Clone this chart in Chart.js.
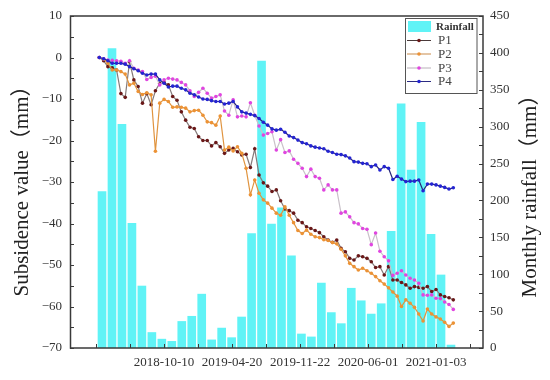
<!DOCTYPE html>
<html><head><meta charset="utf-8">
<script src="https://cdn.jsdelivr.net/npm/chart.js@4/dist/chart.umd.min.js"></script>
<style>html,body{margin:0;padding:0;background:#fff;}#wrap{width:550px;height:380px;}</style>
</head><body><div id="wrap"><canvas id="c" width="550" height="380"></canvas></div>
<script>
// ---------- data ----------
const months = ['2018-04','2018-05','2018-06','2018-07','2018-08','2018-09','2018-10','2018-11','2018-12',
  '2019-01','2019-02','2019-03','2019-04','2019-05','2019-06','2019-07','2019-08','2019-09','2019-10','2019-11','2019-12',
  '2020-01','2020-02','2020-03','2020-04','2020-05','2020-06','2020-07','2020-08','2020-09','2020-10','2020-11','2020-12',
  '2021-01','2021-02','2021-03'];
const rainfall = [212,406,303,169,84,21,12,9,36,43,73,11,27,14,42,155,389,168,190,125,19,15,88,48,33,81,64,46,60,158,331,241,306,154,99,4];

const P1 = [0,-0.8,-2.2,-2.5,-3.0,-8.7,-9.6,-1.0,-5.4,-7.0,-11.0,-8.7,-11.4,-8.0,-6.2,-6.0,-6.6,-9.4,-10.3,-13.1,
  -15.1,-16.8,-17.1,-19.1,-20.0,-20.0,-21.3,-20.5,-21.5,-23.1,-22.3,-21.9,-22.7,-23.5,-23.3,-26.5,-22.0,-28.3,-30.2,-31.0,
  -32.3,-31.9,-34.5,-36.5,-36.9,-37.5,-39.2,-39.8,-40.8,-41.2,-41.7,-42.2,-43.2,-44.0,-44.5,-44.0,-46.0,-46.8,-48.4,-48.8,
  -47.8,-48.0,-48.4,-49.2,-50.6,-50.4,-52.4,-50.4,-53.6,-53.6,-54.2,-54.8,-55.6,-55.2,-55.4,-55.6,-55.2,-56.4,-55.9,-57.2,
  -57.6,-57.9,-58.4];
const P2 = [0,-0.4,-1.4,-3.0,-3.0,-3.4,-4.0,-6.6,-6.2,-8.2,-8.9,-8.5,-9.0,-22.6,-11.0,-10.1,-10.6,-12.0,-11.9,-12.0,
  -12.2,-13.1,-12.8,-12.7,-13.9,-15.5,-15.7,-16.3,-14.1,-22.3,-21.6,-22.5,-21.5,-23.1,-26.7,-33.1,-29.5,-32.7,-34.3,-35.1,
  -36.3,-37.5,-38.0,-36.0,-38.0,-39.8,-41.7,-42.4,-41.6,-42.6,-43.2,-43.4,-43.9,-44.1,-44.6,-44.9,-46.2,-47.8,-49.6,-50.4,
  -51.2,-50.8,-51.4,-52.0,-52.8,-53.8,-54.6,-55.5,-56.5,-57.5,-60.0,-58.4,-59.2,-60.2,-61.8,-63.5,-60.6,-61.8,-62.5,-63.0,
  -63.8,-64.8,-64.0];
const P3 = [0,-0.3,-0.6,-0.7,-0.8,-0.9,-1.4,-0.8,-2.6,-3.0,-3.4,-5.3,-4.8,-4.5,-6.6,-5.4,-5.0,-5.2,-5.4,-6.0,
  -6.6,-8.0,-9.4,-8.4,-7.4,-8.6,-9.8,-9.4,-9.0,-12.9,-13.9,-10.2,-14.3,-14.1,-14.3,-10.9,-13.9,-16.5,-18.7,-18.3,
  -17.9,-22.3,-19.8,-22.9,-22.5,-24.5,-25.5,-26.7,-28.7,-26.9,-28.7,-29.1,-31.9,-30.7,-31.9,-31.9,-37.5,-37.2,-38.4,-39.8,
  -40.1,-41.2,-41.4,-45.1,-42.3,-46.7,-48.0,-49.0,-52.5,-52.0,-51.4,-52.4,-53.2,-53.6,-54.4,-57.2,-57.3,-57.2,-58.0,-58.1,
  -58.9,-59.5,-60.7];
const P4 = [0,-0.3,-0.8,-1.4,-1.4,-1.4,-1.6,-2.2,-2.7,-3.2,-3.8,-4.2,-4.0,-4.0,-5.4,-6.2,-7.1,-6.9,-6.9,-7.4,
  -7.8,-8.6,-9.0,-9.5,-10.0,-10.1,-10.4,-10.6,-10.6,-11.2,-11.0,-10.6,-11.9,-13.1,-13.4,-13.7,-14.0,-14.7,-15.6,-16.3,
  -17.2,-17.5,-17.3,-18.0,-18.9,-19.3,-19.9,-20.5,-20.8,-21.3,-21.6,-21.8,-22.0,-22.6,-22.9,-23.3,-23.4,-23.7,-24.2,-25.1,
  -25.2,-25.5,-25.6,-26.3,-25.9,-27.1,-26.3,-26.7,-29.4,-28.6,-29.3,-29.9,-29.8,-29.8,-29.5,-32.1,-30.5,-30.5,-30.7,-31.0,
  -31.3,-31.7,-31.4];
const seriesNames = ['P1','P2','P3','P4'];
const dateTickLabels = ['','','2018-10-10','','2019-04-20','','2019-11-22','','2020-06-01','','2021-01-03',''];
const leftTitle = 'Subsidence value（mm）';
const rightTitle = 'Monthly rainfall（mm）';

// ---------- styles ----------
const SERIF = "'Liberation Serif','Times New Roman','Noto Sans CJK SC',serif";
const lineStyles = [
  {line:'#857a7a', point:'#6a1818', legendLine:'#4a3a3a'},
  {line:'#e0943f', point:'#ec9235', legendLine:'#c98b4b'},
  {line:'#c9c1c9', point:'#e045e0', legendLine:'#b9b0b9'},
  {line:'#26267a', point:'#2424d2', legendLine:'#2b2b82'}
];
const BAR_COLOR = 'rgb(96,243,246)';

const seriesData = [P1,P2,P3,P4];
const lineDatasets = seriesData.map((arr, s) => ({
  type:'line', label: seriesNames[s], xAxisID:'xl', yAxisID:'y',
  data: arr.map((v,k)=>({x:k, y:v})),
  borderColor: lineStyles[s].line, borderWidth: 1.2,
  pointBackgroundColor: lineStyles[s].point, pointBorderColor: lineStyles[s].point,
  pointRadius: 1.8, pointBorderWidth: 0, tension: 0, order: 4 - s
}));
const barDataset = {
  type:'bar', label:'Rainfall', xAxisID:'xb', yAxisID:'yr',
  data: rainfall.map((v,i)=>({x:i, y:v, m: months[i]})),
  backgroundColor: BAR_COLOR, borderWidth: 0,
  grouped: false, barThickness: 8, order: 10
};

const decor = {
  id:'decor',
  afterDatasetsDraw(chart){
    const {ctx, chartArea:a, scales} = chart;
    ctx.save();
    ctx.strokeStyle = '#3a3a3a';
    ctx.lineWidth = 1;
    // inward ticks
    scales.y.ticks.forEach(t => {
      const p = Math.round(scales.y.getPixelForValue(t.value)) + 0.5;
      ctx.beginPath(); ctx.moveTo(a.left, p); ctx.lineTo(a.left + 4, p); ctx.stroke();
    });
    scales.yr.ticks.forEach(t => {
      const p = Math.round(scales.yr.getPixelForValue(t.value)) + 0.5;
      ctx.beginPath(); ctx.moveTo(a.right, p); ctx.lineTo(a.right - 4, p); ctx.stroke();
    });
    scales.x.ticks.forEach(t => {
      const p = Math.round(scales.x.getPixelForValue(t.value)) + 0.5;
      ctx.beginPath(); ctx.moveTo(p, a.bottom); ctx.lineTo(p, a.bottom - 4); ctx.stroke();
    });
    // frame
    ctx.lineWidth = 1.5;
    ctx.strokeRect(a.left + 0.5, a.top, a.right - a.left - 0.5, a.bottom - a.top);

    // legend
    const lx = 405.5, ly = 18.5, lw = 71.5, lh = 75;
    ctx.fillStyle = '#fff'; ctx.fillRect(lx, ly, lw, lh);
    ctx.lineWidth = 1; ctx.strokeStyle = '#555'; ctx.strokeRect(lx, ly, lw, lh);
    ctx.fillStyle = BAR_COLOR; ctx.fillRect(408, 21, 23, 11);
    ctx.fillStyle = '#333'; ctx.textAlign = 'left'; ctx.textBaseline = 'middle';
    ctx.font = 'bold 11px ' + SERIF;
    ctx.fillText(barDataset.label, 436, 27);
    ctx.font = '13px ' + SERIF;
    const rows = [40, 53.5, 67.5, 81];
    lineDatasets.forEach((d, s) => {
      const y = rows[s];
      ctx.strokeStyle = lineStyles[s].legendLine; ctx.lineWidth = 1;
      ctx.beginPath(); ctx.moveTo(407, y + 0.5); ctx.lineTo(431, y + 0.5); ctx.stroke();
      ctx.fillStyle = lineStyles[s].point;
      ctx.beginPath(); ctx.arc(419, y + 0.5, 1.8, 0, Math.PI*2); ctx.fill();
      ctx.fillStyle = '#444';
      ctx.fillText(d.label, 438, y + 1);
    });

    // axis titles (both read bottom-to-top)
    ctx.font = '21px ' + SERIF;
    ctx.fillStyle = '#222'; ctx.textAlign = 'center'; ctx.textBaseline = 'middle';
    ctx.save(); ctx.translate(22, 186); ctx.rotate(-Math.PI/2); ctx.fillText(leftTitle, 0, 0); ctx.restore();
    ctx.save(); ctx.translate(530, 191); ctx.rotate(-Math.PI/2); ctx.fillText(rightTitle, 0, 0); ctx.restore();
    ctx.restore();
  }
};

const tickFont = {family: SERIF, size: 13};
const noGrid = {display:false, drawTicks:false};
const minusFmt = v => (v % 10 === 0 ? String(v).replace('-', '\u2212') : '');

new Chart(document.getElementById('c'), {
  type:'bar',
  data:{ datasets:[...lineDatasets, barDataset] },
  options:{
    responsive:false, animation:false, devicePixelRatio:1,
    layout:{padding:{top:16,left:0,right:0,bottom:0}},
    plugins:{legend:{display:false}, tooltip:{enabled:false}},
    scales:{
      x:{type:'linear', position:'bottom', min:-0.765, max:11.38, offset:false,
         grid:noGrid, border:{display:false},
         afterBuildTicks(s){ s.ticks = dateTickLabels.map((_,j)=>({value:j})); },
         afterFit(s){ s.height = 32; },
         ticks:{font:tickFont, color:'#333', padding:7, maxRotation:0, autoSkip:false,
                callback:(v,i)=>dateTickLabels[i]}},
      xb:{type:'linear', display:false, min:-3.21, max:38.21, offset:false, grid:{offset:false},
          afterBuildTicks(s){ s.ticks = months.map((_,i)=>({value:i})); }},
      xl:{type:'linear', display:false, min:-6.79, max:88.88, offset:false},
      y:{type:'linear', position:'left', min:-70, max:10, grid:noGrid, border:{display:false},
         afterFit(s){ s.width = 70; },
         ticks:{stepSize:5, autoSkip:false, font:tickFont, color:'#333', padding:8, callback:minusFmt}},
      yr:{type:'linear', position:'right', min:0, max:450, grid:noGrid, border:{display:false},
         afterFit(s){ s.width = 67; },
         ticks:{stepSize:25, autoSkip:false, font:tickFont, color:'#333', padding:7,
                callback:v => (v % 50 === 0 ? String(v) : '')}}
    }
  },
  plugins:[decor]
});
</script>
</body></html>
